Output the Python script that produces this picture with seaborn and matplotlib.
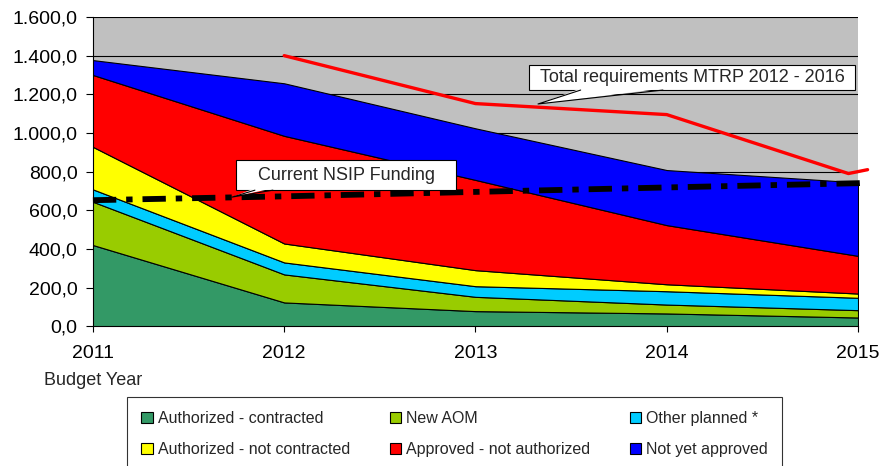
import matplotlib
matplotlib.use('Agg')
import matplotlib.pyplot as plt
from matplotlib.patches import Patch, Rectangle, Polygon
from matplotlib.ticker import FuncFormatter
import seaborn as sns

sns.set_theme(style='white')
plt.rcParams['font.family'] = ['Liberation Sans', 'DejaVu Sans']

years = [2011, 2012, 2013, 2014, 2015]

auth_contracted = [420, 123, 78, 66, 45]
new_aom = [224, 145, 74, 46, 38]
other_planned = [64, 62, 55, 69, 64]
auth_not_contracted = [220, 98, 83, 36, 22]
approved_not_auth = [372, 557, 467, 306, 195]
not_yet_approved = [77, 272, 267, 285, 380]

series_names = ['Authorized - contracted', 'New AOM', 'Other planned *',
                'Authorized - not contracted', 'Approved - not authorized',
                'Not yet approved']
series_colors = ['#339966', '#99CC00', '#00CCFF', '#FFFF00', '#FF0000', '#0000FF']

mtrp_x = [2012, 2013, 2014, 2014.95, 2015.05]
mtrp_total = [1400, 1152, 1095, 790, 810]

nsip_x = [2011, 2012, 2013, 2014, 2015, 2015.03]
nsip_funding = [652, 672, 695, 718, 740, 742]

fig = plt.figure(figsize=(8.85, 4.66), dpi=100)
ax = fig.add_axes([0.105, 0.300, 0.8645, 0.6635])
ax.set_facecolor('#C0C0C0')

for v in range(200, 1601, 200):
    ax.axhline(v, color='black', lw=0.8, zorder=0.5)

ax.stackplot(years, auth_contracted, new_aom, other_planned, auth_not_contracted,
             approved_not_auth, not_yet_approved, colors=series_colors,
             edgecolor='black', linewidth=0.8, zorder=1)

sns.lineplot(x=mtrp_x, y=mtrp_total, color='#FF0000', lw=2.4, ax=ax,
             legend=False, clip_on=False, zorder=3)
sns.lineplot(x=nsip_x, y=nsip_funding, color='black', lw=4.2, ax=ax,
             legend=False, clip_on=False, zorder=3,
             linestyle=(0, (4, 1.7, 1.1, 1.7)), dash_capstyle='butt')


def callout(text, x0, x1, y0, y1, base, tip):
    # white box with a wedge pointing at the line
    ax.add_patch(Rectangle((x0, y0), x1 - x0, y1 - y0, fc='white', ec='black',
                           lw=0.8, zorder=4))
    pts = [(base[0], y0 + (y1 - y0) * 0.06), (base[1], y0 + (y1 - y0) * 0.06), tip]
    ax.add_patch(Polygon(pts, closed=True, fc='white', ec='none', zorder=4.5))
    ax.plot([base[0], tip[0], base[1]], [y0, tip[1], y0], color='black', lw=0.8,
            zorder=4.6)
    ax.text((x0 + x1) / 2, (y0 + y1) / 2, text, ha='center', va='center',
            fontsize=13, zorder=5)


callout('Total requirements MTRP 2012 - 2016', 2013.28, 2014.985, 1222, 1352,
        (2013.55, 2013.98), (2013.327, 1150))
callout('Current NSIP Funding', 2011.75, 2012.90, 704, 860,
        (2011.847, 2011.941), (2011.727, 668))

ax.set_xlim(2011, 2015)
ax.set_ylim(0, 1600)
ax.set_xticks(years)
ax.set_yticks(range(0, 1601, 200))
ax.yaxis.set_major_formatter(FuncFormatter(
    lambda v, p: f'{v:,.1f}'.replace(',', 'X').replace('.', ',').replace('X', '.')))
ax.tick_params(axis='y', left=True, length=5, width=0.8, pad=6, labelsize=14,
               colors='black')
ax.tick_params(axis='x', bottom=True, length=4.5, width=0.8, pad=9, labelsize=14,
               colors='black')
for s in ['top', 'right']:
    ax.spines[s].set_visible(False)
for s in ['left', 'bottom']:
    ax.spines[s].set_color('black')
    ax.spines[s].set_linewidth(0.8)

ax.text(2011, -0.175, 'Budget Year', transform=ax.get_xaxis_transform(),
        ha='center', va='center', fontsize=13)

# legend fills column-wise, so reorder to match the 2x3 layout
order = [0, 3, 1, 4, 2, 5]
handles = [Patch(facecolor=series_colors[i], edgecolor='black', lw=0.8,
                 label=series_names[i]) for i in order]
leg = fig.legend(handles=handles, loc='upper left', ncol=3,
                 bbox_to_anchor=(0.1435, 0.148), fontsize=11.5,
                 frameon=True, fancybox=False, edgecolor='black',
                 handlelength=0.7, handleheight=0.7, handletextpad=0.35,
                 columnspacing=2.45, labelspacing=1.0, borderpad=0.9,
                 borderaxespad=0)
leg.get_frame().set_linewidth(0.8)

fig.savefig('out.png', dpi=100)
